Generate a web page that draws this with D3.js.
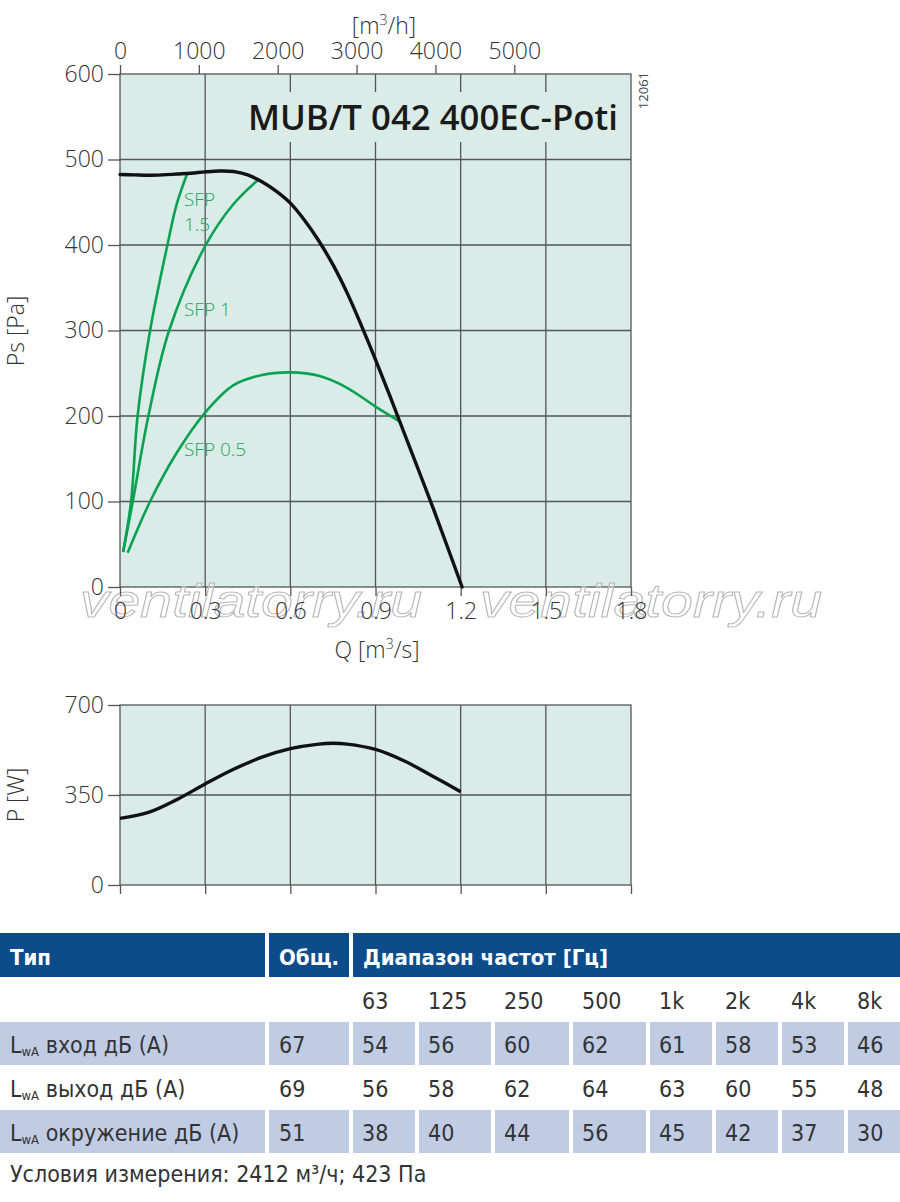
<!DOCTYPE html>
<html><head><meta charset="utf-8">
<script src="https://cdn.jsdelivr.net/npm/d3@7/dist/d3.min.js"></script>
<style>
body{margin:0;background:#fff;}
svg{display:block;}
</style></head>
<body>
<script>
// ---------- DATA ----------
const title = "MUB/T 042 400EC-Poti";
const qTicks = [0, 0.3, 0.6, 0.9, 1.2, 1.5, 1.8];
const qTickLabels = ["0", "0.3", "0.6", "0.9", "1.2", "1.5", "1.8"];
const m3hTicks = [0, 1000, 2000, 3000, 4000, 5000];
const psTicks = [0, 100, 200, 300, 400, 500, 600];
const pTicks = [0, 350, 700];

// fan curve
const fanQ  = [0, 0.05, 0.1, 0.15, 0.2, 0.25, 0.3, 0.35, 0.4, 0.45, 0.5, 0.55, 0.6, 0.65, 0.7, 0.75, 0.8, 0.85, 0.9, 0.95, 1.0, 1.05, 1.1, 1.15, 1.205];
const fanPs = [482.5, 482, 481.5, 482, 483, 484, 485.5, 486.5, 486, 482, 474, 463, 449, 429, 405, 377, 344, 306, 266, 224, 181, 138, 95, 50, 0];

// SFP curves
const sfp15Q  = [0.011, 0.039, 0.062, 0.106, 0.167, 0.2, 0.237];
const sfp15Ps = [41, 100, 200, 300, 400, 448, 483.6];
const sfp1Q   = [0.011, 0.045, 0.1, 0.173, 0.302, 0.4, 0.489];
const sfp1Ps  = [41, 100, 200, 300, 400, 448, 477];
const sfp05Q  = [0.027, 0.106, 0.2, 0.3, 0.4, 0.5, 0.6, 0.7, 0.8, 0.9, 0.986];
const sfp05Ps = [40, 100, 157, 204, 236, 248, 251, 247, 233, 211, 193.5];
const sfpLabels = [["SFP", "1.5"], ["SFP 1"], ["SFP 0.5"]];

// power curve
const powQ = [0, 0.1, 0.2, 0.3, 0.4, 0.5, 0.6, 0.7, 0.75, 0.8, 0.9, 1.0, 1.1, 1.2];
const powP = [259, 282, 332, 393, 450, 497, 530, 548, 551, 548, 527, 483, 424, 363];

// sound table
const tableHeader = ["Тип", "Общ.", "Диапазон частот [Гц]"];
const freqBands = ["63", "125", "250", "500", "1k", "2k", "4k", "8k"];
const rowTypes = ["вход дБ (A)", "выход дБ (A)", "окружение дБ (A)"];
const rowTotals = [67, 69, 51];
const rowValues = [
  [54, 56, 60, 62, 61, 58, 53, 46],
  [56, 58, 62, 64, 63, 60, 55, 48],
  [38, 40, 44, 56, 45, 42, 37, 30]
];
const footnote = "Условия измерения: 2412 м³/ч; 423 Па";
const watermark = "ventilatorry.ru";

// ---------- DRAW ----------
const W = 900, H = 1202;
const svg = d3.select("body").append("svg").attr("width", W).attr("height", H);
const FONT = "'Open Sans', 'DejaVu Sans', sans-serif";
const TFONT = "'Liberation Sans Narrow', 'DejaVu Sans Condensed', 'Roboto Condensed', sans-serif";
const bg = "#d9ece8", gridC = "#555", txtC = "#333", green = "#0aa152";

const L = 120, R = 631;
const x = d3.scaleLinear().domain([0, 1.8]).range([L, R]);
const xh = d3.scaleLinear().domain([0, 1.8 * 3600]).range([L, R]);
const T1 = 74, B1 = 587;
const y = d3.scaleLinear().domain([0, 600]).range([B1, T1]);
const T2 = 705, B2 = 885;
const y2 = d3.scaleLinear().domain([0, 700]).range([B2, T2]);

function styleAxis(g, size) {
  g.select(".domain").remove();
  g.selectAll(".tick line").attr("stroke", gridC).attr("stroke-width", 1.3);
  g.selectAll(".tick text").attr("fill", txtC).style("font-family", FONT)
    .style("font-size", size + "px").style("font-weight", 300);
}

// ----- main chart -----
const g1 = svg.append("g");
g1.append("rect").attr("x", L).attr("y", T1).attr("width", R - L).attr("height", B1 - T1).attr("fill", bg);
g1.selectAll(".vg").data(qTicks.slice(1, -1)).enter().append("line")
  .attr("x1", d => x(d)).attr("x2", d => x(d)).attr("y1", T1).attr("y2", B1)
  .attr("stroke", gridC).attr("stroke-width", 1.3);
g1.selectAll(".hg").data(psTicks.slice(1, -1)).enter().append("line")
  .attr("x1", L).attr("x2", R).attr("y1", d => y(d)).attr("y2", d => y(d))
  .attr("stroke", gridC).attr("stroke-width", 1.3);
// title box covering grid
g1.append("rect").attr("x", 240).attr("y", 92).attr("width", 385).attr("height", 50).attr("fill", bg);
g1.append("rect").attr("x", L).attr("y", T1).attr("width", R - L).attr("height", B1 - T1)
  .attr("fill", "none").attr("stroke", gridC).attr("stroke-width", 1.3);

// watermark (behind tick labels)
[80, 480].forEach(wx => {
  g1.append("text").attr("x", wx).attr("y", 617).attr("textLength", 342).attr("lengthAdjust", "spacingAndGlyphs")
    .attr("fill", "rgba(255,255,255,0.35)").attr("stroke", "#b8b8b8").attr("stroke-width", 1)
    .style("font-family", "'Liberation Sans', sans-serif").style("font-style", "italic")
    .style("font-size", "47px").text(watermark);
});

g1.append("g").attr("transform", `translate(${L},0)`)
  .call(d3.axisLeft(y).tickValues(psTicks).tickSize(12).tickPadding(4))
  .call(g => styleAxis(g, 23));
g1.append("g").attr("transform", `translate(0,${B1})`)
  .call(d3.axisBottom(x).tickValues(qTicks).tickSize(9).tickPadding(7).tickFormat((d, i) => qTickLabels[i]))
  .call(g => styleAxis(g, 23));
g1.append("g").attr("transform", `translate(0,${T1})`)
  .call(d3.axisTop(xh).tickValues(m3hTicks).tickSize(9).tickPadding(6).tickFormat(d3.format("d")))
  .call(g => styleAxis(g, 23));

// axis titles
const t1 = g1.append("text").attr("x", 384).attr("y", 34).attr("text-anchor", "middle")
  .attr("fill", txtC).style("font-family", FONT).style("font-size", "23px").style("font-weight", 300);
t1.append("tspan").text("[m");
t1.append("tspan").text("3").attr("dy", -9).style("font-size", "14px");
t1.append("tspan").text("/h]").attr("dy", 9);
const t2 = g1.append("text").attr("x", 377).attr("y", 658).attr("text-anchor", "middle")
  .attr("fill", txtC).style("font-family", FONT).style("font-size", "23px").style("font-weight", 300);
t2.append("tspan").text("Q [m");
t2.append("tspan").text("3").attr("dy", -9).style("font-size", "14px");
t2.append("tspan").text("/s]").attr("dy", 9);
g1.append("text").attr("transform", `translate(24,331) rotate(-90)`).attr("text-anchor", "middle")
  .attr("fill", txtC).style("font-family", FONT).style("font-size", "23px").style("font-weight", 300)
  .text("Ps [Pa]");

g1.append("text").attr("x", 248).attr("y", 130).attr("textLength", 370).attr("lengthAdjust", "spacingAndGlyphs")
  .attr("fill", "#1a1a1a").style("font-family", FONT).style("font-size", "34px").style("font-weight", 600)
  .text(title);
g1.append("text").attr("transform", "translate(648,72) rotate(-90)").attr("text-anchor", "end")
  .attr("fill", "#444").style("font-family", FONT).style("font-size", "13px").text("12061");

const line = d3.line().x(d => x(d[0])).y(d => y(d[1])).curve(d3.curveCatmullRom.alpha(0.5));
const zip = (a, b) => a.map((v, i) => [v, b[i]]);
[zip(sfp15Q, sfp15Ps), zip(sfp1Q, sfp1Ps), zip(sfp05Q, sfp05Ps)].forEach(pts => {
  g1.append("path").attr("d", line(pts)).attr("fill", "none").attr("stroke", green).attr("stroke-width", 2.6);
});
g1.append("path").attr("d", line(zip(fanQ, fanPs))).attr("fill", "none")
  .attr("stroke", "#111").attr("stroke-width", 3.4).attr("stroke-linecap", "round");

// SFP labels
const sfpLabelPos = [[184, 206], [184, 316], [184, 456]];
sfpLabels.forEach((lines, i) => {
  lines.forEach((s, j) => {
    g1.append("text").attr("x", sfpLabelPos[i][0]).attr("y", sfpLabelPos[i][1] + j * 25)
      .attr("fill", "#22a55a").style("font-family", FONT).style("font-size", "19px").style("font-weight", 300)
      .text(s);
  });
});

// ----- power chart -----
const g2 = svg.append("g");
g2.append("rect").attr("x", L).attr("y", T2).attr("width", R - L).attr("height", B2 - T2).attr("fill", bg);
g2.selectAll(".vg").data(qTicks.slice(1, -1)).enter().append("line")
  .attr("x1", d => x(d)).attr("x2", d => x(d)).attr("y1", T2).attr("y2", B2)
  .attr("stroke", gridC).attr("stroke-width", 1.3);
g2.selectAll(".hg").data(pTicks.slice(1, -1)).enter().append("line")
  .attr("x1", L).attr("x2", R).attr("y1", d => y2(d)).attr("y2", d => y2(d))
  .attr("stroke", gridC).attr("stroke-width", 1.3);
g2.append("rect").attr("x", L).attr("y", T2).attr("width", R - L).attr("height", B2 - T2)
  .attr("fill", "none").attr("stroke", gridC).attr("stroke-width", 1.3);
g2.append("g").attr("transform", `translate(${L},0)`)
  .call(d3.axisLeft(y2).tickValues(pTicks).tickSize(12).tickPadding(4))
  .call(g => styleAxis(g, 23));
g2.append("g").attr("transform", `translate(0,${B2})`)
  .call(d3.axisBottom(x).tickValues(qTicks).tickSize(9).tickFormat(""))
  .call(g => styleAxis(g, 23));
g2.append("text").attr("transform", `translate(24,795) rotate(-90)`).attr("text-anchor", "middle")
  .attr("fill", txtC).style("font-family", FONT).style("font-size", "23px").style("font-weight", 300)
  .text("P [W]");
const line2 = d3.line().x(d => x(d[0])).y(d => y2(d[1])).curve(d3.curveCatmullRom.alpha(0.5));
g2.append("path").attr("d", line2(zip(powQ, powP))).attr("fill", "none")
  .attr("stroke", "#111").attr("stroke-width", 3.4);

// ----- table -----
const gt = svg.append("g");
const hdrBlue = "#0c4c8b", rowBlue = "#c0cbe4";
const hdrCols = [[0, 265], [269, 349], [353, 900]];
const dataCols = [[0, 265], [269, 349], [353, 415], [419, 491], [495, 569], [573, 646], [650, 712], [716, 778], [782, 844], [848, 900]];
const hdrY = 933, hdrH = 44;
gt.selectAll(".hc").data(hdrCols).enter().append("rect")
  .attr("x", d => d[0]).attr("y", hdrY).attr("width", d => d[1] - d[0]).attr("height", hdrH).attr("fill", hdrBlue);
gt.selectAll(".ht").data(tableHeader).enter().append("text")
  .attr("x", (d, i) => hdrCols[i][0] + 10).attr("y", 965)
  .attr("fill", "#fff").style("font-family", TFONT).style("font-size", "22px").style("font-weight", 600)
  .text(d => d);
// freq band row
gt.selectAll(".fb").data(freqBands).enter().append("text")
  .attr("x", (d, i) => dataCols[i + 2][0] + 9).attr("y", 1009)
  .attr("fill", txtC).style("font-family", TFONT).style("font-size", "23px")
  .text(d => d);
const rowTops = [1022, 1066, 1110];
const rowBase = [1053, 1097, 1141];
rowTypes.forEach((rt, r) => {
  if (r !== 1) {
    gt.selectAll(".rc" + r).data(dataCols).enter().append("rect")
      .attr("x", d => d[0]).attr("y", rowTops[r]).attr("width", d => d[1] - d[0]).attr("height", 43)
      .attr("fill", rowBlue);
  }
  const lbl = gt.append("text").attr("x", 10).attr("y", rowBase[r]).attr("fill", txtC)
    .style("font-family", TFONT).style("font-size", "23px");
  lbl.append("tspan").text("L");
  lbl.append("tspan").text("wA").attr("dy", 3).style("font-size", "13px");
  lbl.append("tspan").text(" " + rt).attr("dy", -3);
  gt.append("text").attr("x", dataCols[1][0] + 10).attr("y", rowBase[r]).attr("fill", txtC)
    .style("font-family", TFONT).style("font-size", "23px").text(rowTotals[r]);
  gt.selectAll(".rv" + r).data(rowValues[r]).enter().append("text")
    .attr("x", (d, i) => dataCols[i + 2][0] + 9).attr("y", rowBase[r]).attr("fill", txtC)
    .style("font-family", TFONT).style("font-size", "23px").text(d => d);
});
gt.append("text").attr("x", 10).attr("y", 1182).attr("fill", txtC)
  .style("font-family", TFONT).style("font-size", "23px").text(footnote);
</script>
</body></html>
